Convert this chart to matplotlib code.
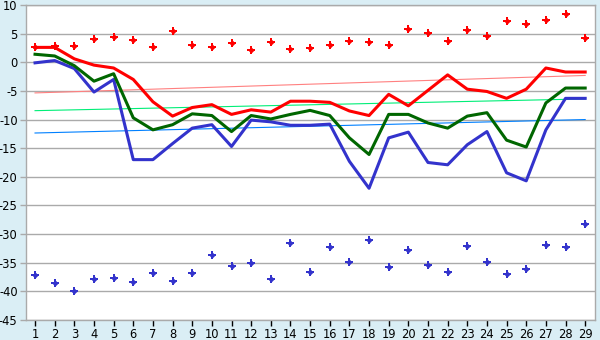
import numpy as np
import matplotlib
matplotlib.use("Agg")
import matplotlib.pyplot as plt

plt.rcParams['font.family'] = ['DejaVu Sans']
plt.rcParams['axes.unicode_minus'] = False

# x categories
days = list(range(1, 30))

# main series
red_line = [2.6, 2.6, 0.6, -0.5, -1.0, -3.0, -6.9, -9.4, -7.9, -7.4, -9.1, -8.3, -8.7, -6.8, -6.8,
            -7.0, -8.5, -9.3, -5.6, -7.6, -4.9, -2.2, -4.7, -5.1, -6.3, -4.7, -1.0, -1.7, -1.7]
green_line = [1.4, 1.1, -0.6, -3.3, -2.0, -9.7, -11.8, -10.9, -9.0, -9.3, -12.1, -9.3, -9.9, -9.1, -8.4,
              -9.3, -13.2, -16.1, -9.1, -9.1, -10.6, -11.5, -9.4, -8.8, -13.6, -14.8, -7.1, -4.5, -4.5]
blue_line = [-0.1, 0.3, -1.1, -5.2, -3.0, -17.0, -17.0, -14.2, -11.5, -10.9, -14.7, -10.1, -10.4, -11.0, -11.0,
             -10.8, -17.3, -22.0, -13.2, -12.2, -17.5, -17.9, -14.4, -12.1, -19.3, -20.7, -11.8, -6.3, -6.3]

# scatter points
red_points = [2.6, 2.9, 2.9, 4.1, 4.4, 3.9, 2.7, 5.5, 3.1, 2.7, 3.4, 2.2, 3.6, 2.35, 2.5,
              3.0, 3.7, 3.55, 3.0, 5.8, 5.1, 3.7, 5.65, 4.6, 7.2, 6.7, 7.4, 8.5, 4.25]
blue_points = [-37.2, -38.6, -40.0, -37.9, -37.7, -38.4, -36.8, -38.2, -36.8, -33.7, -35.6, -35.1, -37.9, -31.6, -36.6,
               -32.3, -34.9, -31.0, -35.8, -32.8, -35.4, -36.6, -32.1, -34.9, -37.0, -36.1, -31.9, -32.3, -28.3]

# trend lines (start/end values)
trend_x = [1, 29]
red_trend = [-5.35, -2.3]
green_trend = [-8.45, -6.4]
blue_trend = [-12.35, -10.0]

fig = plt.figure(figsize=(6, 3.4), dpi=100)
fig.patch.set_facecolor('#daeef5')
ax = fig.add_axes([26/600, 1-320/340, 569/600, 315/340])
ax.set_facecolor('white')

ax.plot(trend_x, red_trend, color='#ff8080', lw=0.8, zorder=2)
ax.plot(trend_x, green_trend, color='#00ee77', lw=0.8, zorder=2)
ax.plot(trend_x, blue_trend, color='#0080ff', lw=0.8, zorder=2)

ax.plot(days, blue_line, color='#3333cc', lw=2.2, zorder=3)
ax.plot(days, green_line, color='#006600', lw=2.2, zorder=4)
ax.plot(days, red_line, color='#ff0000', lw=2.2, zorder=5)

# diamond-ish cross markers
for pts, c in [(red_points, '#ff0000'), (blue_points, '#3333cc')]:
    ax.plot(days, pts, ls='none', marker='P', ms=6, color=c, mew=0, zorder=6)
    ax.plot(days, pts, ls='none', marker='D', ms=3.2, color=c, mew=0, zorder=6)

ax.set_xlim(0.54, 29.5)
ax.set_ylim(-45, 10)
ax.set_xticks(days)
ax.set_yticks(np.arange(-45, 11, 5))
ax.grid(axis='y', color='#aaaaaa', lw=1)
ax.set_axisbelow(True)
for s in ax.spines.values():
    s.set_color('#aaaaaa')
    s.set_linewidth(1)
ax.tick_params(axis='both', colors='#000000', labelsize=8.3, length=4, width=1, color='#000000')
ax.tick_params(axis='y', color='#aaaaaa', length=4, pad=2)
ax.tick_params(axis='x', pad=2)

fig.savefig('out.png', dpi=100, facecolor=fig.get_facecolor())
